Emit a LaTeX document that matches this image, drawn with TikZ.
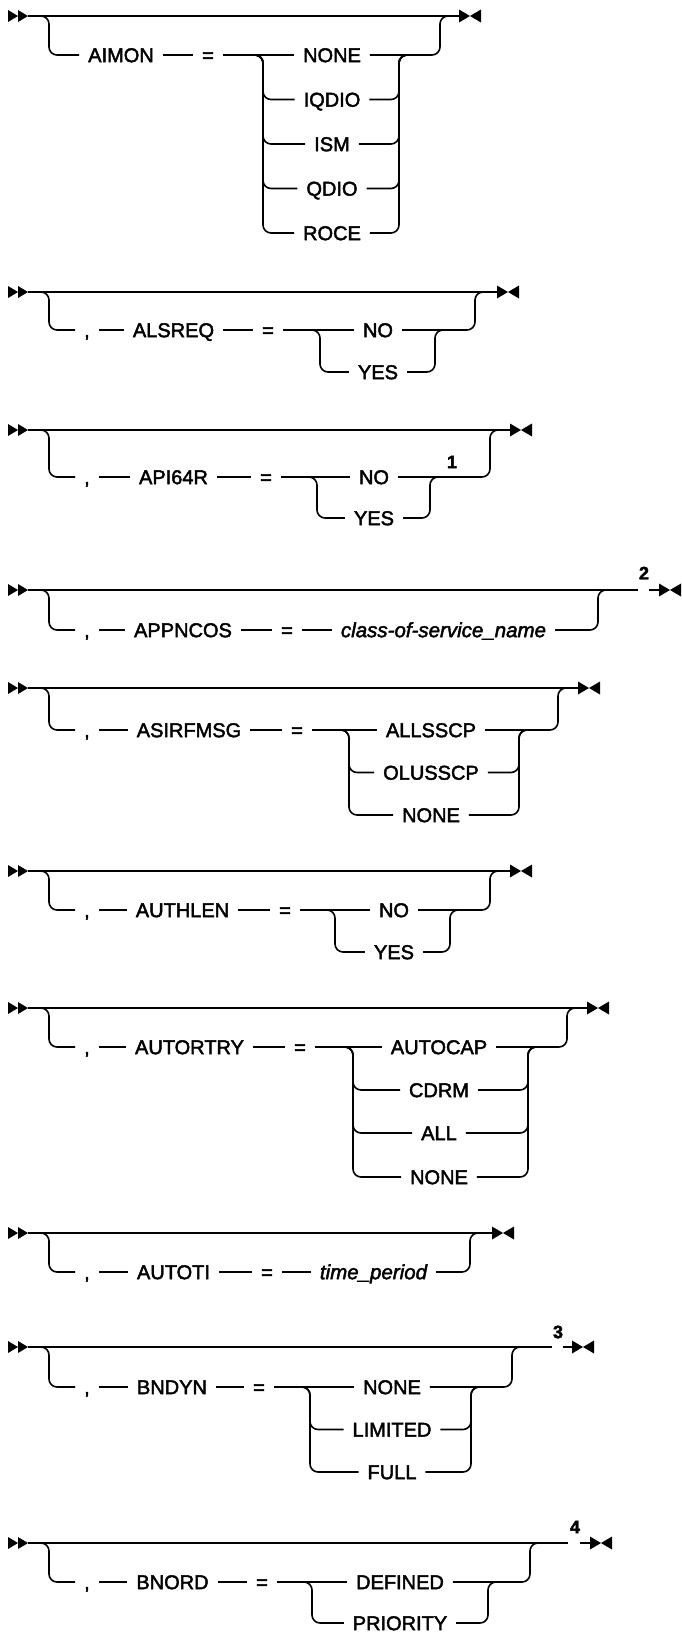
\documentclass[tikz,border=0pt]{standalone}
\usepackage{fontspec}
\setmainfont{Liberation Sans}[FakeBold=2.2]
\usetikzlibrary{calc}
\newcommand\optbranch[3]{%
  \draw[rc] ([xshift=-10pt]#1) -| (#1 |- #3) -- (#3.west);
  \draw[rc] (#3.east) -| (#2) -- ([xshift=10pt]#2);}
\begin{document}
\begin{tikzpicture}[x=1pt,y=-1pt,line width=1.6pt,
  rc/.style={rounded corners=8pt},
  kw/.style={font=\fontsize{20}{20}\selectfont, inner sep=0pt, outer xsep=9pt, text height=14.3pt, text depth=0pt},
  var/.style={kw, font=\fontsize{20.5}{20.5}\selectfont\itshape},
  note/.style={font=\fontsize{18}{18}\selectfont\bfseries, inner sep=0pt},
  startmk/.pic={\fill (0,-6) -- (10,0) -- (0,6) -- cycle (10,-6) -- (20,0) -- (10,6) -- cycle;},
  endmk/.pic={\fill (0,-6.5) -- (11,0) -- (0,6.5) -- cycle (22,-6.5) -- (11,0) -- (22,6.5) -- cycle;}]
\useasboundingbox (0,0) rectangle (681,1636);

% ---------------- AIMON
\pic at (8,16) {startmk};
\coordinate (aimonEnd) at (459,16);
\draw (28,16) -- (aimonEnd);
\pic at (aimonEnd) {endmk};
\node[kw] (aimon) at (121,55) {AIMON};
\node[kw] (aimonEq) at (208,55) {=};
\coordinate (aimonL) at (263,55);
\coordinate (aimonR) at (399,55);
\node[kw] (aimonO1) at (332,55) {NONE};
\node[kw] (aimonO2) at (332,99.5) {IQDIO};
\node[kw] (aimonO3) at (332,144) {ISM};
\node[kw] (aimonO4) at (332,188.5) {QDIO};
\node[kw] (aimonO5) at (332,233) {ROCE};
\draw[rc] (36,16) -| (49,55) -- (aimon.west);
\draw (aimon.east) -- (aimonEq.west);
\draw (aimonEq.east) -- (aimonO1.west);
\draw[rc] (aimonO1.east) -| (440,16) -- (450,16);
\optbranch{aimonL}{aimonR}{aimonO2}
\optbranch{aimonL}{aimonR}{aimonO3}
\optbranch{aimonL}{aimonR}{aimonO4}
\optbranch{aimonL}{aimonR}{aimonO5}

% ---------------- ALSREQ
\pic at (8,292) {startmk};
\coordinate (alsEnd) at (497,292);
\draw (28,292) -- (alsEnd);
\pic at (alsEnd) {endmk};
\node[kw] (alsC) at (87,330) {,};
\node[kw] (als) at (173.5,330) {ALSREQ};
\node[kw] (alsEq) at (268,330) {=};
\coordinate (alsL) at (320,330);
\coordinate (alsR) at (435,330);
\node[kw] (alsO1) at (378,330) {NO};
\node[kw] (alsO2) at (378,372) {YES};
\draw[rc] (36,292) -| (49,330) -- (alsC.west);
\draw (alsC.east) -- (als.west);
\draw (als.east) -- (alsEq.west);
\draw (alsEq.east) -- (alsO1.west);
\draw[rc] (alsO1.east) -| (475,292) -- (485,292);
\optbranch{alsL}{alsR}{alsO2}

% ---------------- API64R
\pic at (8,430) {startmk};
\coordinate (apiEnd) at (510,430);
\draw (28,430) -- (apiEnd);
\pic at (apiEnd) {endmk};
\node[kw] (apiC) at (87,477) {,};
\node[kw] (api) at (173.5,477) {API64R};
\node[kw] (apiEq) at (266,477) {=};
\coordinate (apiL) at (317,477);
\coordinate (apiR) at (430,477);
\node[kw] (apiO1) at (374,477) {NO};
\node[kw] (apiO2) at (374,518) {YES};
\node[note] (apiN) at (452,462) {1};
\draw[rc] (36,430) -| (49,477) -- (apiC.west);
\draw (apiC.east) -- (api.west);
\draw (api.east) -- (apiEq.west);
\draw (apiEq.east) -- (apiO1.west);
\draw[rc] (apiO1.east) -| (490,430) -- (500,430);
\optbranch{apiL}{apiR}{apiO2}

% ---------------- APPNCOS
\pic at (8,590) {startmk};
\coordinate (appTop) at (638,590);
\coordinate (appDash) at (649,590);
\coordinate (appEnd) at (659,590);
\draw (28,590) -- (appTop);
\draw (appDash) -- (appEnd);
\pic at (appEnd) {endmk};
\node[note] (appN) at (644,573) {2};
\node[kw] (appC) at (87,630) {,};
\node[kw] (app) at (183,630) {APPNCOS};
\node[kw] (appEq) at (287,630) {=};
\node[var] (appV) at (443.5,630) {class-of-service\_name};
\draw[rc] (36,590) -| (49,630) -- (appC.west);
\draw (appC.east) -- (app.west);
\draw (app.east) -- (appEq.west);
\draw (appEq.east) -- (appV.west);
\draw[rc] (appV.east) -| (598,590) -- (608,590);

% ---------------- ASIRFMSG
\pic at (8,688) {startmk};
\coordinate (asiEnd) at (578,688);
\draw (28,688) -- (asiEnd);
\pic at (asiEnd) {endmk};
\node[kw] (asiC) at (87,730) {,};
\node[kw] (asi) at (189,730) {ASIRFMSG};
\node[kw] (asiEq) at (297,730) {=};
\coordinate (asiL) at (349,730);
\coordinate (asiR) at (519,730);
\node[kw] (asiO1) at (431,730) {ALLSSCP};
\node[kw] (asiO2) at (431,772.5) {OLUSSCP};
\node[kw] (asiO3) at (431,815) {NONE};
\draw[rc] (36,688) -| (49,730) -- (asiC.west);
\draw (asiC.east) -- (asi.west);
\draw (asi.east) -- (asiEq.west);
\draw (asiEq.east) -- (asiO1.west);
\draw[rc] (asiO1.east) -| (558,688) -- (568,688);
\optbranch{asiL}{asiR}{asiO2}
\optbranch{asiL}{asiR}{asiO3}

% ---------------- AUTHLEN
\pic at (8,871) {startmk};
\coordinate (athEnd) at (510,871);
\draw (28,871) -- (athEnd);
\pic at (athEnd) {endmk};
\node[kw] (athC) at (87,910) {,};
\node[kw] (ath) at (182.5,910) {AUTHLEN};
\node[kw] (athEq) at (285,910) {=};
\coordinate (athL) at (335,910);
\coordinate (athR) at (450,910);
\node[kw] (athO1) at (394,910) {NO};
\node[kw] (athO2) at (394,952) {YES};
\draw[rc] (36,871) -| (49,910) -- (athC.west);
\draw (athC.east) -- (ath.west);
\draw (ath.east) -- (athEq.west);
\draw (athEq.east) -- (athO1.west);
\draw[rc] (athO1.east) -| (490,871) -- (500,871);
\optbranch{athL}{athR}{athO2}

% ---------------- AUTORTRY
\pic at (8,1008) {startmk};
\coordinate (atrEnd) at (587,1008);
\draw (28,1008) -- (atrEnd);
\pic at (atrEnd) {endmk};
\node[kw] (atrC) at (87,1047) {,};
\node[kw] (atr) at (189.5,1047) {AUTORTRY};
\node[kw] (atrEq) at (300,1047) {=};
\coordinate (atrL) at (353,1047);
\coordinate (atrR) at (528,1047);
\node[kw] (atrO1) at (439,1047) {AUTOCAP};
\node[kw] (atrO2) at (439,1090) {CDRM};
\node[kw] (atrO3) at (439,1133) {ALL};
\node[kw] (atrO4) at (439,1177) {NONE};
\draw[rc] (36,1008) -| (49,1047) -- (atrC.west);
\draw (atrC.east) -- (atr.west);
\draw (atr.east) -- (atrEq.west);
\draw (atrEq.east) -- (atrO1.west);
\draw[rc] (atrO1.east) -| (567,1008) -- (577,1008);
\optbranch{atrL}{atrR}{atrO2}
\optbranch{atrL}{atrR}{atrO3}
\optbranch{atrL}{atrR}{atrO4}

% ---------------- AUTOTI
\pic at (8,1233) {startmk};
\coordinate (atiEnd) at (492,1233);
\draw (28,1233) -- (atiEnd);
\pic at (atiEnd) {endmk};
\node[kw] (atiC) at (87,1272) {,};
\node[kw] (ati) at (173.5,1272) {AUTOTI};
\node[kw] (atiEq) at (267,1272) {=};
\node[var] (atiV) at (373.5,1272) {time\_period};
\draw[rc] (36,1233) -| (49,1272) -- (atiC.west);
\draw (atiC.east) -- (ati.west);
\draw (ati.east) -- (atiEq.west);
\draw (atiEq.east) -- (atiV.west);
\draw[rc] (atiV.east) -| (470,1233) -- (480,1233);

% ---------------- BNDYN
\pic at (8,1347) {startmk};
\coordinate (bdyTop) at (552,1347);
\coordinate (bdyDash) at (563,1347);
\coordinate (bdyEnd) at (572,1347);
\draw (28,1347) -- (bdyTop);
\draw (bdyDash) -- (bdyEnd);
\pic at (bdyEnd) {endmk};
\node[note] (bdyN) at (558,1332) {3};
\node[kw] (bdyC) at (87,1387) {,};
\node[kw] (bdy) at (172,1387) {BNDYN};
\node[kw] (bdyEq) at (259,1387) {=};
\coordinate (bdyL) at (310,1387);
\coordinate (bdyR) at (471,1387);
\node[kw] (bdyO1) at (392,1387) {NONE};
\node[kw] (bdyO2) at (392,1429.5) {LIMITED};
\node[kw] (bdyO3) at (392,1472) {FULL};
\draw[rc] (36,1347) -| (49,1387) -- (bdyC.west);
\draw (bdyC.east) -- (bdy.west);
\draw (bdy.east) -- (bdyEq.west);
\draw (bdyEq.east) -- (bdyO1.west);
\draw[rc] (bdyO1.east) -| (512,1347) -- (522,1347);
\optbranch{bdyL}{bdyR}{bdyO2}
\optbranch{bdyL}{bdyR}{bdyO3}

% ---------------- BNORD
\pic at (8,1543) {startmk};
\coordinate (bnoTop) at (568,1543);
\coordinate (bnoDash) at (580,1543);
\coordinate (bnoEnd) at (590,1543);
\draw (28,1543) -- (bnoTop);
\draw (bnoDash) -- (bnoEnd);
\pic at (bnoEnd) {endmk};
\node[note] (bnoN) at (575,1527) {4};
\node[kw] (bnoC) at (87,1582) {,};
\node[kw] (bno) at (172.5,1582) {BNORD};
\node[kw] (bnoEq) at (262,1582) {=};
\coordinate (bnoL) at (312,1582);
\coordinate (bnoR) at (488,1582);
\node[kw] (bnoO1) at (400,1582) {DEFINED};
\node[kw] (bnoO2) at (400,1623) {PRIORITY};
\draw[rc] (36,1543) -| (49,1582) -- (bnoC.west);
\draw (bnoC.east) -- (bno.west);
\draw (bno.east) -- (bnoEq.west);
\draw (bnoEq.east) -- (bnoO1.west);
\draw[rc] (bnoO1.east) -| (530,1543) -- (540,1543);
\optbranch{bnoL}{bnoR}{bnoO2}
\end{tikzpicture}
\end{document}
